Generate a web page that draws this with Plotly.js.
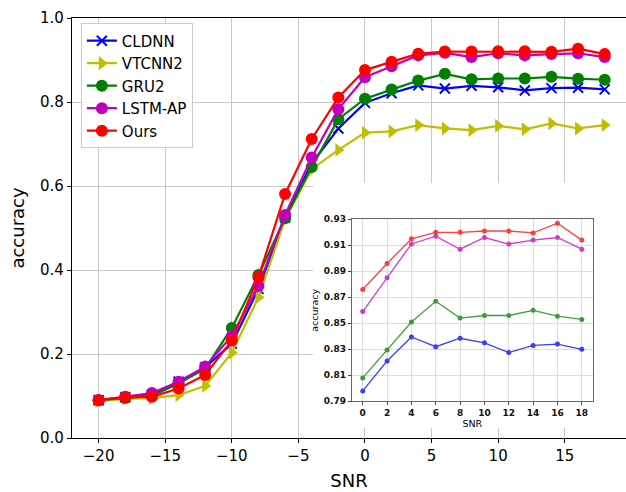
<!DOCTYPE html>
<html>
<head>
<meta charset="utf-8">
<script src="https://cdn.plot.ly/plotly-3.0.1.min.js"></script>
<style>html,body{margin:0;padding:0;background:#fff;}#chart{width:626px;height:492px;}</style>
</head>
<body>
<div id="chart"></div>
<script>
const snr = [-20,-18,-16,-14,-12,-10,-8,-6,-4,-2,0,2,4,6,8,10,12,14,16,18];
const cldnn  = [0.090,0.097,0.103,0.134,0.168,0.225,0.355,0.525,0.654,0.737,0.798,0.821,0.8395,0.832,0.8385,0.835,0.8275,0.833,0.834,0.830];
const vtcnn2 = [0.088,0.093,0.095,0.102,0.124,0.203,0.335,0.520,0.640,0.686,0.727,0.730,0.745,0.737,0.733,0.743,0.735,0.749,0.737,0.745];
const gru2   = [0.090,0.095,0.100,0.130,0.165,0.262,0.388,0.523,0.645,0.759,0.808,0.8295,0.851,0.867,0.854,0.856,0.856,0.860,0.8555,0.853];
const lstmap = [0.090,0.098,0.107,0.134,0.170,0.243,0.362,0.531,0.668,0.783,0.859,0.885,0.911,0.917,0.907,0.916,0.911,0.914,0.916,0.907];
const ours   = [0.090,0.097,0.098,0.118,0.150,0.232,0.383,0.581,0.712,0.811,0.876,0.896,0.915,0.920,0.920,0.921,0.921,0.9195,0.927,0.914];
const names = ['CLDNN','VTCNN2','GRU2','LSTM-AP','Ours'];
const xTicks = [-20,-15,-10,-5,0,5,10,15];
const yTicks = [0,0.2,0.4,0.6,0.8,1.0];
const insetXTicks = [0,2,4,6,8,10,12,14,16,18];
const insetYTicks = [0.79,0.81,0.83,0.85,0.87,0.89,0.91,0.93];

const series = [cldnn, vtcnn2, gru2, lstmap, ours];
const colors = ['#0000ff','#bfbf00','#008000','#bf00bf','#ff0000'];
const symbols = ['x-thin-open','triangle-right','circle','circle','circle'];

const traces = [];
series.forEach((ys, i) => {
  traces.push({
    x: snr, y: ys, name: names[i], type: 'scatter', mode: 'lines+markers',
    xaxis: 'x', yaxis: 'y',
    line: {color: colors[i], width: 2.2},
    marker: symbols[i] === 'x-thin-open'
      ? {symbol: 'x-thin-open', size: 10, color: colors[i], line: {color: colors[i], width: 2}}
      : {symbol: symbols[i], size: 12, color: colors[i]}
  });
});
// inset (x >= 0), without VTCNN2
[0,2,3,4].forEach(i => {
  const xs = [], ys = [];
  snr.forEach((s, k) => { if (s >= 0) { xs.push(s); ys.push(series[i][k]); } });
  traces.push({
    x: xs, y: ys, type: 'scatter', mode: 'lines+markers', showlegend: false,
    xaxis: 'x3', yaxis: 'y3', opacity: 0.75,
    line: {color: colors[i], width: 1.3},
    marker: {symbol: 'circle', size: 5, color: colors[i]}
  });
});
// invisible trace so the white-box subplot exists
traces.push({x: [0], y: [0], xaxis: 'x2', yaxis: 'y2', mode: 'markers', showlegend: false,
  marker: {opacity: 0}, hoverinfo: 'skip'});

const font = 'DejaVu Sans, Arial, sans-serif';
const insetTickFont = {size: 9, color: '#111', family: font, weight: 'bold'};
const layout = {
  width: 626, height: 492,
  margin: {l: 72, r: 0, t: 18, b: 54},
  paper_bgcolor: '#fff', plot_bgcolor: 'rgba(0,0,0,0)',
  font: {family: font, color: '#000'},
  showlegend: true,
  legend: {x: 0.016, y: 0.987, xanchor: 'left', yanchor: 'top',
    bgcolor: 'rgba(255,255,255,0.9)', bordercolor: '#cccccc', borderwidth: 1,
    font: {size: 15, family: font}, tracegroupgap: 0},
  xaxis: {domain: [0, 1], range: [-22, 19.6], tickvals: xTicks, ticktext: xTicks.map(v => v < 0 ? '\u2212' + Math.abs(v) : String(v)),
    showgrid: true, gridcolor: '#c8c8c8', gridwidth: 1, zeroline: false,
    showline: true, linecolor: '#000', linewidth: 1.2, mirror: true,
    ticks: 'outside', ticklen: 4, tickcolor: '#000', tickfont: {size: 15},
    title: {text: 'SNR', font: {size: 18}, standoff: 10}},
  yaxis: {domain: [0, 1], range: [0, 1], tickvals: yTicks, tickformat: '.1f',
    showgrid: true, gridcolor: '#c8c8c8', gridwidth: 1, zeroline: false,
    showline: true, linecolor: '#000', linewidth: 1.2,
    ticks: 'outside', ticklen: 4, tickcolor: '#000', tickfont: {size: 15},
    title: {text: 'accuracy', font: {size: 18}, standoff: 10}},
  xaxis2: {domain: [0.435, 1.0], range: [0, 1], visible: false, anchor: 'y2'},
  yaxis2: {domain: [0.024, 0.607], range: [0, 1], visible: false, anchor: 'x2'},
  xaxis3: {domain: [0.505, 0.940], range: [-0.9, 18.9], anchor: 'y3', tickvals: insetXTicks,
    showgrid: true, gridcolor: '#dddddd', zeroline: false,
    showline: true, linecolor: '#666', linewidth: 1, mirror: true,
    ticks: 'outside', ticklen: 3, tickcolor: '#444', tickfont: insetTickFont,
    title: {text: 'SNR', font: {size: 9.5}, standoff: 2}},
  yaxis3: {domain: [0.0874, 0.5207], range: [0.79, 0.93], anchor: 'x3', tickvals: insetYTicks, tickformat: '.2f',
    showgrid: true, gridcolor: '#dddddd', zeroline: false,
    showline: true, linecolor: '#666', linewidth: 1, mirror: true,
    ticks: 'outside', ticklen: 3, tickcolor: '#444', tickfont: insetTickFont,
    title: {text: 'accuracy', font: {size: 9.5}, standoff: 3}},
  shapes: [
    {type: 'rect', xref: 'x2', yref: 'y2', x0: 0, x1: 1, y0: 0, y1: 1, layer: 'below',
     fillcolor: '#ffffff', line: {width: 0}}
  ]
};
Plotly.newPlot('chart', traces, layout, {staticPlot: true, displayModeBar: false});
</script>
</body>
</html>
